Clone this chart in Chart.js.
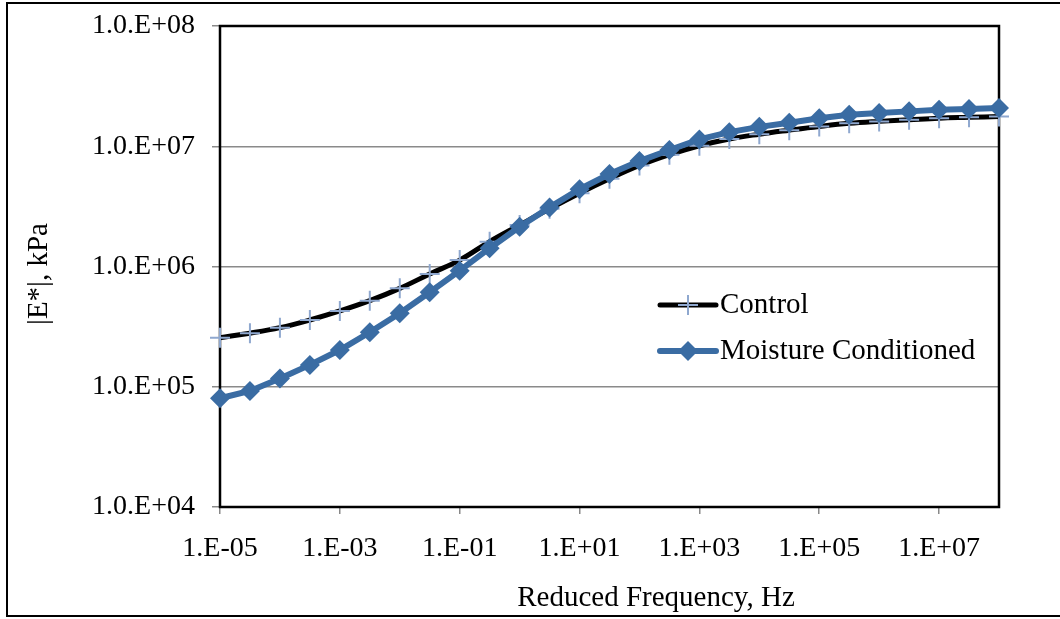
<!DOCTYPE html>
<html>
<head>
<meta charset="utf-8">
<script src="https://cdn.jsdelivr.net/npm/chart.js@4/dist/chart.umd.min.js"></script>
<style>
  html, body { margin: 0; padding: 0; background: #fff; }
  #wrap { width: 1060px; height: 619px; }
</style>
</head>
<body>
<div id="wrap"><canvas id="modulusChart" width="1060" height="619"></canvas></div>
<script>
// reduced frequency, Hz (half-decade steps)
const frequencies = [
    1e-5, 3.16e-5, 1e-4, 3.16e-4, 1e-3, 3.16e-3, 1e-2, 3.16e-2, 1e-1, 3.16e-1,
    1, 3.16, 10, 31.6, 100, 316, 1e3, 3.16e3, 1e4, 3.16e4,
    1e5, 3.16e5, 1e6, 3.16e6, 1e7, 3.16e7, 1e8
];
// |E*|, kPa
const controlModulus = [
    2.56e5, 2.79e5, 3.10e5, 3.59e5, 4.27e5, 5.20e5, 6.58e5, 8.67e5, 1.13e6, 1.61e6,
    2.21e6, 3.02e6, 4.07e6, 5.37e6, 6.92e6, 8.51e6, 1.01e7, 1.15e7, 1.26e7, 1.36e7,
    1.46e7, 1.55e7, 1.61e7, 1.66e7, 1.71e7, 1.74e7, 1.77e7
];
const moistureModulus = [
    8.02e4, 9.23e4, 1.17e5, 1.52e5, 2.02e5, 2.84e5, 4.08e5, 6.10e5, 9.23e5, 1.42e6,
    2.14e6, 3.10e6, 4.39e6, 5.87e6, 7.53e6, 9.31e6, 1.14e7, 1.31e7, 1.45e7, 1.57e7,
    1.71e7, 1.83e7, 1.89e7, 1.95e7, 2.01e7, 2.04e7, 2.08e7
];
const seriesNames = ['Control', 'Moisture Conditioned'];
const xTitle = 'Reduced Frequency, Hz';
const yTitle = '|E*|, kPa';
const yTickValues = [1e4, 1e5, 1e6, 1e7, 1e8];
const xTickValues = [1e-5, 1e-3, 1e-1, 1e1, 1e3, 1e5, 1e7];

const BLUE = '#3a6ca3';
const PLUS = '#8fa8cf';
const FONT = '"Liberation Serif", "Times New Roman", serif';

function pad2(n) { return String(Math.abs(n)).padStart(2, '0'); }

// plot frame, outer border, axis titles and in-plot legend
const framePlugin = {
    id: 'frame',
    beforeDatasetsDraw(chart) {
        const { ctx, chartArea: a } = chart;
        ctx.save();
        ctx.strokeStyle = '#000';
        ctx.lineWidth = 2.5;
        ctx.strokeRect(a.left, a.top, a.right - a.left, a.bottom - a.top);
        ctx.restore();
    },
    afterDraw(chart) {
        const ctx = chart.ctx;
        ctx.save();
        ctx.strokeStyle = '#000';
        ctx.lineWidth = 2;
        ctx.strokeRect(7, 3, 1100, 613);

        // axis titles
        ctx.fillStyle = '#000';
        ctx.font = '29px ' + FONT;
        ctx.textAlign = 'center';
        ctx.textBaseline = 'middle';
        ctx.fillText(xTitle, 656, 598);
        ctx.save();
        ctx.translate(39, 274);
        ctx.rotate(-Math.PI / 2);
        ctx.fillText(yTitle, 0, 0);
        ctx.restore();

        // legend
        const x0 = 660, x1 = 716, mx = 688;
        const rows = [305, 351];
        ctx.lineCap = 'round';
        ctx.strokeStyle = '#000';
        ctx.lineWidth = 5;
        ctx.beginPath(); ctx.moveTo(x0, rows[0]); ctx.lineTo(x1, rows[0]); ctx.stroke();
        ctx.strokeStyle = PLUS;
        ctx.lineWidth = 2;
        ctx.lineCap = 'butt';
        ctx.beginPath();
        ctx.moveTo(mx - 10, rows[0]); ctx.lineTo(mx + 10, rows[0]);
        ctx.moveTo(mx, rows[0] - 10); ctx.lineTo(mx, rows[0] + 10);
        ctx.stroke();
        ctx.lineCap = 'round';
        ctx.strokeStyle = BLUE;
        ctx.lineWidth = 6;
        ctx.beginPath(); ctx.moveTo(x0, rows[1]); ctx.lineTo(x1, rows[1]); ctx.stroke();
        ctx.fillStyle = BLUE;
        ctx.beginPath();
        ctx.moveTo(mx, rows[1] - 10); ctx.lineTo(mx + 10, rows[1]);
        ctx.lineTo(mx, rows[1] + 10); ctx.lineTo(mx - 10, rows[1]);
        ctx.closePath(); ctx.fill();

        ctx.fillStyle = '#000';
        ctx.font = '29px ' + FONT;
        ctx.textAlign = 'left';
        ctx.fillText(seriesNames[0], 720, rows[0]);
        ctx.fillText(seriesNames[1], 720, rows[1]);
        ctx.restore();
    }
};

const ctx = document.getElementById('modulusChart').getContext('2d');
const modulusChart = new Chart(ctx, {
    type: 'line',
    data: {
        labels: frequencies,
        datasets: [{
            label: seriesNames[0],
            data: frequencies.map((f, i) => ({ x: f, y: controlModulus[i] })),
            borderColor: '#000',
            borderWidth: 5,
            tension: 0.4,
            pointStyle: 'cross',
            pointRadius: 10,
            pointBorderWidth: 2,
            pointBorderColor: PLUS,
            pointBackgroundColor: PLUS,
            clip: false,
            order: 1
        }, {
            label: seriesNames[1],
            data: frequencies.map((f, i) => ({ x: f, y: moistureModulus[i] })),
            borderColor: BLUE,
            borderWidth: 6,
            tension: 0,
            pointStyle: 'rectRot',
            pointRadius: 10,
            pointBorderWidth: 0,
            pointBackgroundColor: BLUE,
            pointBorderColor: BLUE,
            clip: false,
            order: 0
        }]
    },
    options: {
        responsive: false,
        animation: false,
        layout: { padding: { top: 26, right: 61, left: 0, bottom: 0 } },
        plugins: {
            legend: { display: false },
            tooltip: { enabled: false }
        },
        scales: {
            x: {
                type: 'logarithmic',
                min: 1e-5,
                max: 1e8,
                afterBuildTicks: scale => { scale.ticks = xTickValues.map(v => ({ value: v })); },
                afterFit: scale => { scale.height = 112; scale.paddingLeft = 0; scale.paddingRight = 0; },
                border: { display: false },
                grid: { drawOnChartArea: false, drawTicks: true, tickLength: 7, color: '#888', lineWidth: 1.5 },
                ticks: {
                    autoSkip: false,
                    maxRotation: 0,
                    padding: 18,
                    color: '#000',
                    font: { family: FONT, size: 28 },
                    callback: v => {
                        const e = Math.round(Math.log10(v));
                        return '1.E' + (e < 0 ? '-' : '+') + pad2(e);
                    }
                }
            },
            y: {
                type: 'logarithmic',
                min: 1e4,
                max: 1e8,
                afterBuildTicks: scale => { scale.ticks = yTickValues.map(v => ({ value: v })); },
                afterFit: scale => { scale.width = 220; scale.paddingTop = 0; scale.paddingBottom = 0; },
                border: { display: false },
                grid: { color: '#8a8a8a', lineWidth: 1.5, tickLength: 8 },
                ticks: {
                    padding: 17,
                    color: '#000',
                    font: { family: FONT, size: 28 },
                    callback: v => '1.0.E+' + pad2(Math.round(Math.log10(v)))
                }
            }
        }
    },
    plugins: [framePlugin]
});
</script>
</body>
</html>
